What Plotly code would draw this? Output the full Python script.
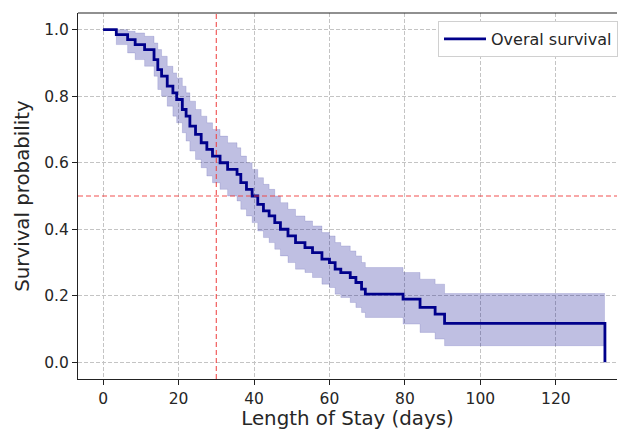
import plotly.graph_objects as go

# Kaplan-Meier step data
times = [0, 3.5, 6.5, 8.5, 11, 13.5, 14.5, 15.5, 17, 18.5, 19.5, 21, 22, 23, 24.5, 26, 27.5, 29,
         31, 33, 35.5, 36.5, 38, 39.5, 41, 42.5, 44, 45.5, 47, 49, 51, 53.5, 55.5, 58, 60, 61.5,
         63, 65.5, 67, 68.5, 69.5, 79.5, 84, 88, 90.5, 133]
survival = [1.0, 0.985, 0.97, 0.955, 0.94, 0.91, 0.88, 0.86, 0.83, 0.81, 0.79, 0.76, 0.74, 0.71,
            0.685, 0.66, 0.64, 0.62, 0.60, 0.58, 0.565, 0.54, 0.52, 0.50, 0.475, 0.455, 0.44, 0.42,
            0.40, 0.38, 0.36, 0.345, 0.33, 0.31, 0.30, 0.28, 0.27, 0.255, 0.24, 0.22, 0.205, 0.19,
            0.165, 0.145, 0.117, 0.0]
ci_lower = [1.0, 0.955, 0.93, 0.91, 0.89, 0.86, 0.82, 0.80, 0.77, 0.74, 0.72, 0.69, 0.665, 0.635,
            0.61, 0.585, 0.56, 0.54, 0.52, 0.50, 0.485, 0.46, 0.44, 0.42, 0.395, 0.375, 0.36, 0.34,
            0.32, 0.30, 0.28, 0.27, 0.255, 0.235, 0.225, 0.205, 0.195, 0.18, 0.165, 0.15, 0.135,
            0.115, 0.09, 0.07, 0.05, 0.05]
ci_upper = [1.0, 1.0, 0.995, 0.99, 0.98, 0.96, 0.94, 0.92, 0.89, 0.87, 0.855, 0.83, 0.81, 0.785,
            0.76, 0.74, 0.72, 0.70, 0.68, 0.66, 0.645, 0.62, 0.60, 0.58, 0.555, 0.535, 0.52, 0.50,
            0.48, 0.46, 0.44, 0.425, 0.41, 0.39, 0.38, 0.36, 0.35, 0.335, 0.32, 0.30, 0.285, 0.27,
            0.25, 0.235, 0.207, 0.207]

x_ticks = [0, 20, 40, 60, 80, 100, 120]
y_ticks = [0.0, 0.2, 0.4, 0.6, 0.8, 1.0]
ref_day = 30
ref_prob = 0.5

FONT = "DejaVu Sans"
TXT = "#262626"
fig = go.Figure()
fig.add_trace(go.Scatter(x=times, y=ci_upper, mode="lines", line=dict(shape="hv", width=0.6, color="rgba(0,0,139,0.22)"),
                         showlegend=False, hoverinfo="skip"))
fig.add_trace(go.Scatter(x=times, y=ci_lower, mode="lines", line=dict(shape="hv", width=0.6, color="rgba(0,0,139,0.22)"),
                         fill="tonexty", fillcolor="rgba(0,0,139,0.25)", showlegend=False, hoverinfo="skip"))
fig.add_trace(go.Scatter(x=times, y=survival, mode="lines", line=dict(shape="hv", width=2.8, color="#00008B"),
                         name="Overal survival"))

fig.add_shape(type="line", xref="x", yref="paper", x0=ref_day, x1=ref_day, y0=0, y1=1,
              line=dict(color="rgba(238,60,60,0.9)", width=1.1, dash="5px,3px"))
fig.add_shape(type="line", xref="paper", yref="y", x0=0, x1=1, y0=ref_prob, y1=ref_prob,
              line=dict(color="rgba(238,60,60,0.9)", width=1.1, dash="5px,3px"))

axis_common = dict(showgrid=True, gridcolor="#c4c4c4", gridwidth=1, griddash="4px,2px",
                   showline=True, linecolor="#222", linewidth=1.2, ticks="outside", ticklen=5,
                   tickcolor="#222", zeroline=False, automargin=False,
                   tickfont=dict(family=FONT, size=15.5, color=TXT))
fig.update_xaxes(range=[-6.65, 136.2], tickvals=x_ticks, mirror=False,
                 title=dict(text="Length of Stay (days)", font=dict(family=FONT, size=19.8, color=TXT), standoff=15),
                 **axis_common)
fig.update_yaxes(range=[-0.05, 1.05], tickvals=y_ticks, tickformat=".1f",
                 title=dict(text="Survival probability", font=dict(family=FONT, size=19.8, color=TXT), standoff=9),
                 **axis_common)
# top spine
fig.add_shape(type="line", xref="paper", yref="paper", x0=0, x1=1, y0=1, y1=1,
              line=dict(color="#222", width=1.2))

fig.update_layout(width=618, height=430, margin=dict(l=78, r=0, t=13, b=51),
                  plot_bgcolor="white", paper_bgcolor="white",
                  legend=dict(x=0.668, y=0.978, xanchor="left", yanchor="top", bgcolor="white", itemwidth=42,
                              bordercolor="#d0d0d0", borderwidth=1, font=dict(family=FONT, size=16, color=TXT)),
                  font=dict(family=FONT))
fig.write_html("out.html", config={"displayModeBar": False},
               post_script="document.body.style.margin='0';document.body.style.overflow='hidden';")
